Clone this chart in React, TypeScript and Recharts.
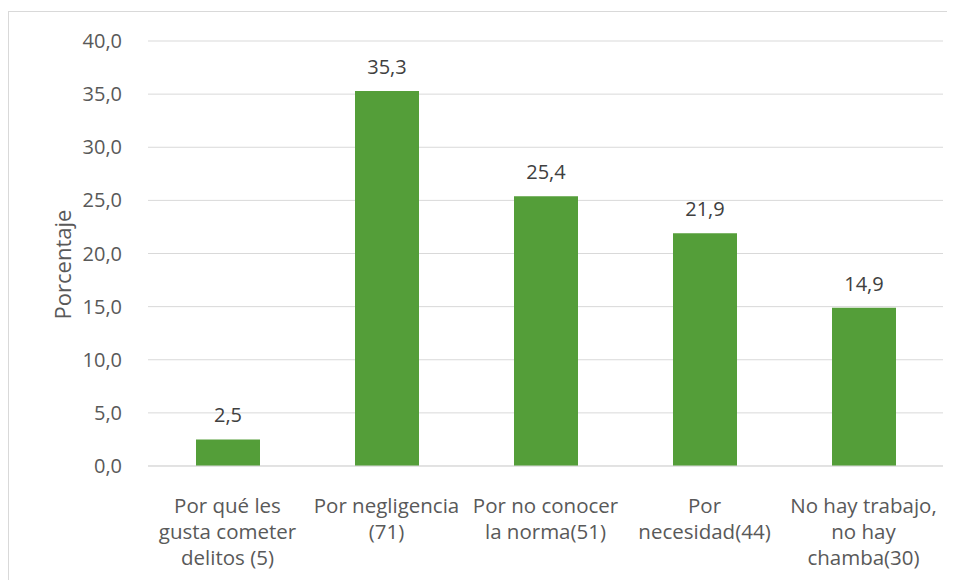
import { Bar, BarChart, CartesianGrid, LabelList, XAxis, YAxis, Label } from "recharts";

const categorias = [
  "Por qué les\ngusta cometer\ndelitos (5)",
  "Por negligencia\n(71)",
  "Por no conocer\nla norma(51)",
  "Por\nnecesidad(44)",
  "No hay trabajo,\nno hay\nchamba(30)",
];
const porcentajes = [2.5, 35.3, 25.4, 21.9, 14.9];
const yTicks = [0, 5, 10, 15, 20, 25, 30, 35, 40];

const data = categorias.map((c, i) => ({ nombre: c, valor: porcentajes[i] }));

const FONT = "'Open Sans', 'Liberation Sans', sans-serif";
const coma = (v: number) => v.toFixed(1).replace(".", ",");

function TickCategoria(props: any) {
  const { x, y, payload } = props;
  const lineas = String(payload.value).split("\n");
  return (
    <text x={x} y={y} textAnchor="middle" fill="#595959" fontSize={20.5} fontFamily={FONT}>
      {lineas.map((l, i) => (
        <tspan key={i} x={x} dy={i === 0 ? 39 : 26}>
          {l}
        </tspan>
      ))}
    </text>
  );
}

export default function App() {
  return (
    <div style={{ marginTop: 3, width: 955, height: 580, border: "1px solid #d9d9d9", boxSizing: "border-box" }}>
      <BarChart
        width={947}
        height={572}
        data={data}
        margin={{ top: 29, right: 13, left: 0, bottom: 0 }}
        barCategoryGap="30%"
      >
        <CartesianGrid vertical={false} stroke="#d9d9d9" />
        <XAxis
          dataKey="nombre"
          tickLine={false}
          axisLine={{ stroke: "#d9d9d9" }}
          tick={<TickCategoria />}
          interval={0}
          height={118}
        />
        <YAxis
          domain={[0, 40]}
          ticks={yTicks}
          tickFormatter={coma}
          tickLine={false}
          axisLine={false}
          width={139}
          tickMargin={20}
          tick={{ fill: "#595959", fontSize: 20, fontFamily: FONT }}
        >
          <Label
            content={(p: any) => {
              const vb = p.viewBox;
              const cx = 53;
              const cy = vb.y + vb.height / 2 + 11;
              return (
                <text
                  x={cx}
                  y={cy}
                  transform={`rotate(-90, ${cx}, ${cy})`}
                  textAnchor="middle"
                  dominantBaseline="central"
                  fill="#595959"
                  fontSize={22}
                  fontFamily={FONT}
                >
                  Porcentaje
                </text>
              );
            }}
          />
        </YAxis>
        <Bar dataKey="valor" fill="#549E39" isAnimationActive={false} barSize={64}>
          <LabelList
            dataKey="valor"
            position="top"
            offset={17}
            formatter={(v: any) => coma(Number(v))}
            fill="#404040"
            fontSize={20}
            fontFamily={FONT}
          />
        </Bar>
      </BarChart>
    </div>
  );
}
